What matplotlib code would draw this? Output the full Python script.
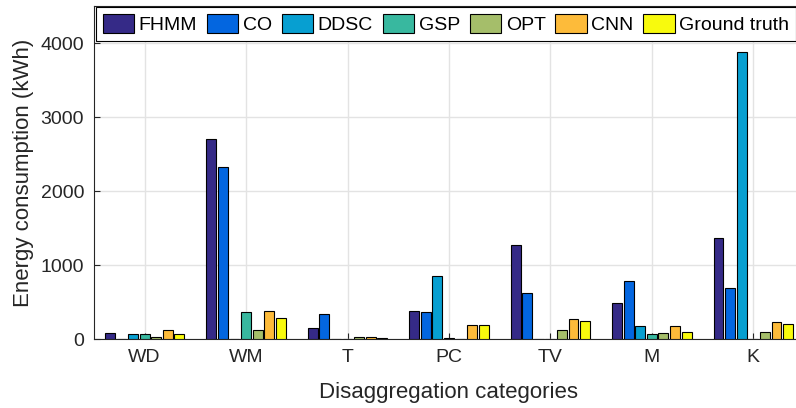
import numpy as np
import matplotlib
matplotlib.use("Agg")
import matplotlib.pyplot as plt

plt.rcParams['font.family'] = ['Liberation Sans', 'DejaVu Sans']

categories = ["WD", "WM", "T", "PC", "TV", "M", "K"]
methods = ["FHMM", "CO", "DDSC", "GSP", "OPT", "CNN", "Ground truth"]

fhmm = [80, 2710, 143, 376, 1270, 493, 1372]
co = [5, 2327, 345, 362, 627, 789, 690]
ddsc = [62, 5, 4, 847, 5, 174, 3880]
gsp = [62, 367, 3, 12, 3, 71, 5]
opt = [22, 125, 26, 5, 129, 85, 98]
cnn = [116, 381, 22, 188, 273, 179, 228]
truth = [62, 287, 17, 196, 250, 89, 206]

colors = ["#352a87", "#0366e0", "#079fd1", "#38b89f", "#a5be6a", "#fdbb3a", "#f8fa0d"]

series = [fhmm, co, ddsc, gsp, opt, cnn, truth]

fig = plt.figure(figsize=(7.96, 4.08), dpi=100)
ax = fig.add_axes([0.118, 0.169, 0.892, 0.816])

x = np.arange(1, len(categories) + 1)
step = 0.8 / len(series)
for i, (vals, c, name) in enumerate(zip(series, colors, methods)):
    off = (i - (len(series) - 1) / 2) * step
    ax.bar(x + off, vals, width=step * 0.85, color=c, edgecolor="black",
           linewidth=0.8, label=name, zorder=3)

ax.set_xlim(0.5, 7.5)
ax.set_ylim(0, 4500)
ax.set_xticks(x)
ax.set_xticklabels(categories)
ax.set_yticks([0, 1000, 2000, 3000, 4000])
ax.tick_params(direction="in", labelsize=14, colors="#262626", top=True, right=True,
               length=4, width=0.8, pad=7)
ax.grid(True, color="#e3e3e3", linewidth=1, zorder=0)
for s in ax.spines.values():
    s.set_color("#262626")
    s.set_linewidth(0.8)

ax.set_xlabel("Disaggregation categories", fontsize=16, color="#262626", labelpad=12)
ax.set_ylabel("Energy consumption (kWh)", fontsize=16, color="#262626", labelpad=5)

leg = ax.legend(loc="upper left", ncol=7, fontsize=14, frameon=True, fancybox=False,
                edgecolor="black", framealpha=1, handlelength=1.6, handleheight=1.15,
                handletextpad=0.25, columnspacing=0.5, borderpad=0.35,
                bbox_to_anchor=(0.003, 0.997), borderaxespad=0)
leg.get_frame().set_linewidth(0.8)

fig.savefig("out.png", dpi=100)
